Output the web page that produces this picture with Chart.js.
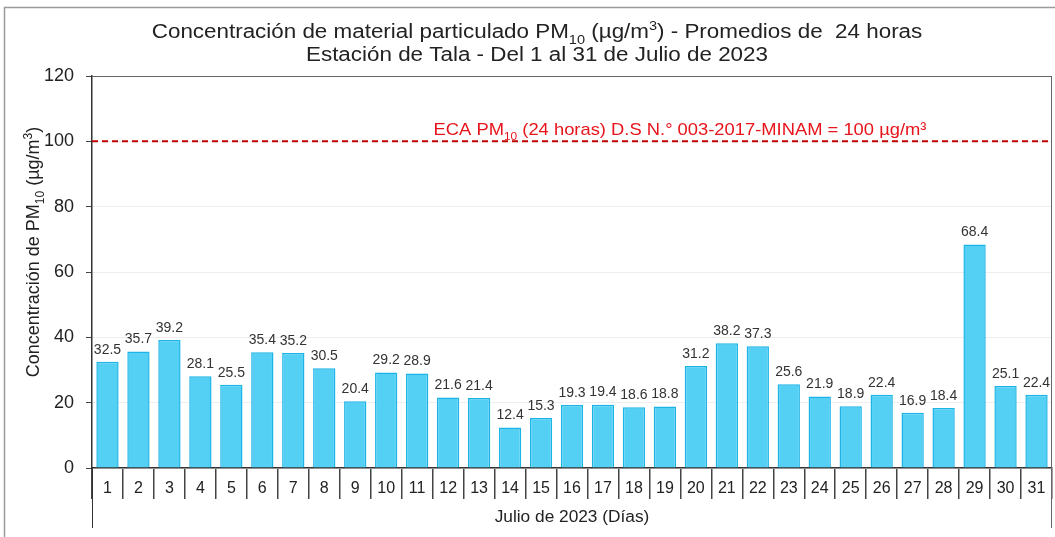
<!DOCTYPE html>
<html>
<head>
<meta charset="utf-8">
<script src="https://cdn.jsdelivr.net/npm/chart.js@4"></script>
<style>
  body { margin: 0; background: #fff; }
  #wrap { position: relative; width: 1055px; height: 537px; }
</style>
</head>
<body>
<div id="wrap"><canvas id="pmChart" width="1055" height="537"></canvas></div>
<script>
// Julio 2023 - Estación de Tala
const days = ['1','2','3','4','5','6','7','8','9','10','11','12','13','14','15','16',
              '17','18','19','20','21','22','23','24','25','26','27','28','29','30','31'];
const pm10 = [32.5, 35.7, 39.2, 28.1, 25.5, 35.4, 35.2, 30.5, 20.4, 29.2, 28.9,
              21.6, 21.4, 12.4, 15.3, 19.3, 19.4, 18.6, 18.8, 31.2, 38.2, 37.3,
              25.6, 21.9, 18.9, 22.4, 16.9, 18.4, 68.4, 25.1, 22.4];
const ecaLimit = 100;
const yMax = 120;
const yStep = 20;

const FONT = '"Liberation Sans", Arial, sans-serif';

// draws text made of pieces, some of them sub or superscript (sx = horizontal stretch)
function richText(ctx, parts, x, y, size, color, sx) {
    sx = sx || 1;
    const small = Math.round(size * 0.65);
    let total = 0;
    parts.forEach(p => {
        ctx.font = (p[1] ? small : size) + 'px ' + FONT;
        total += ctx.measureText(p[0]).width;
    });
    ctx.save();
    ctx.translate(x, y);
    ctx.scale(sx, 1);
    let cx = -total / 2;
    ctx.fillStyle = color;
    ctx.textAlign = 'left';
    ctx.textBaseline = 'alphabetic';
    parts.forEach(p => {
        ctx.font = (p[1] ? small : size) + 'px ' + FONT;
        let dy = 0;
        if (p[1] === 'sub') dy = size * 0.28;
        if (p[1] === 'sup') dy = -size * 0.38;
        ctx.fillText(p[0], cx, dy);
        cx += ctx.measureText(p[0]).width;
    });
    ctx.restore();
}

const decor = {
    id: 'decor',
    afterDatasetsDraw(chart) {
        const ctx = chart.ctx;
        const area = chart.chartArea;
        const y = chart.scales.y;

        // value labels
        ctx.save();
        ctx.font = '14px ' + FONT;
        ctx.fillStyle = '#333';
        ctx.textAlign = 'center';
        ctx.textBaseline = 'bottom';
        chart.getDatasetMeta(0).data.forEach((bar, i) => {
            ctx.fillText(pm10[i].toFixed(1), bar.x, bar.y - 5);
        });
        ctx.restore();

        // ECA line
        const yl = y.getPixelForValue(ecaLimit);
        ctx.save();
        ctx.strokeStyle = '#c00000';
        ctx.lineWidth = 2;
        ctx.setLineDash([6, 4]);
        ctx.beginPath();
        ctx.moveTo(area.left, yl);
        ctx.lineTo(area.right, yl);
        ctx.stroke();
        ctx.restore();

        richText(ctx, [['ECA PM'], ['10', 'sub'], [' (24 horas) D.S N.° 003-2017-MINAM = 100 µg/m³']],
                 680, yl - 6, 17, '#e8141b', 1.08);

        // frame
        ctx.save();
        ctx.strokeStyle = '#666';
        ctx.lineWidth = 1;
        ctx.beginPath();
        ctx.moveTo(area.left, area.top + 0.5);
        ctx.lineTo(area.right, area.top + 0.5);
        ctx.moveTo(area.right - 0.5, area.top);
        ctx.lineTo(area.right - 0.5, 528);
        ctx.stroke();
        ctx.strokeStyle = '#333';
        ctx.beginPath();
        ctx.moveTo(area.left + 0.5, area.bottom);
        ctx.lineTo(area.left + 0.5, 528);
        ctx.stroke();
        ctx.restore();
    },
    afterDraw(chart) {
        const ctx = chart.ctx;
        ctx.save();
        // outer border
        ctx.strokeStyle = '#9a9a9a';
        ctx.lineWidth = 1.5;
        ctx.beginPath();
        ctx.moveTo(4.5, 537);
        ctx.lineTo(4.5, 7.5);
        ctx.lineTo(1055, 7.5);
        ctx.stroke();

        // title
        richText(ctx, [['Concentración de material particulado PM'], ['10', 'sub'],
                       [' (µg/m'], ['3', 'sup'], [') - Promedios de  24 horas']],
                 537, 38, 20, '#222', 1.12);
        richText(ctx, [['Estación de Tala - Del 1 al 31 de Julio de 2023']], 537, 61, 20, '#222', 1.12);

        // x title
        richText(ctx, [['Julio de 2023 (Días)']], 572, 522, 16, '#222', 1.08);

        // y title
        ctx.translate(39, 252);
        ctx.rotate(-Math.PI / 2);
        richText(ctx, [['Concentración de PM'], ['10', 'sub'], [' (µg/m'], ['3', 'sup'], [')']],
                 0, 0, 18, '#222');
        ctx.restore();
    }
};

new Chart(document.getElementById('pmChart'), {
    type: 'bar',
    data: {
        labels: days,
        datasets: [{
            label: 'PM10',
            data: pm10,
            backgroundColor: '#55d0f5',
            borderColor: '#1cb4e6',
            borderWidth: 1.5,
            barPercentage: 0.72,
            categoryPercentage: 1
        }]
    },
    options: {
        responsive: false,
        animation: false,
        layout: { padding: { left: 0, top: 76, right: 3, bottom: 0 } },
        plugins: {
            legend: { display: false },
            title: { display: false },
            tooltip: { enabled: false }
        },
        scales: {
            x: {
                offset: true,
                grid: {
                    offset: true,
                    drawOnChartArea: false,
                    drawTicks: true,
                    tickLength: 31,
                    tickColor: '#444',
                    lineWidth: 1.5
                },
                border: { color: '#333', width: 1.5 },
                ticks: {
                    padding: -20,
                    color: '#222',
                    font: { family: FONT, size: 16 },
                    maxRotation: 0,
                    autoSkip: false
                },
                afterFit(scale) { scale.height = 69; }
            },
            y: {
                min: 0,
                max: yMax,
                ticks: {
                    stepSize: yStep,
                    padding: 12,
                    color: '#222',
                    font: { family: FONT, size: 18 }
                },
                grid: {
                    color: '#eeeeee',
                    tickColor: '#444',
                    tickLength: 6
                },
                border: { color: '#333', width: 1.5 },
                afterFit(scale) { scale.width = 92; }
            }
        }
    },
    plugins: [decor]
});
</script>
</body>
</html>
